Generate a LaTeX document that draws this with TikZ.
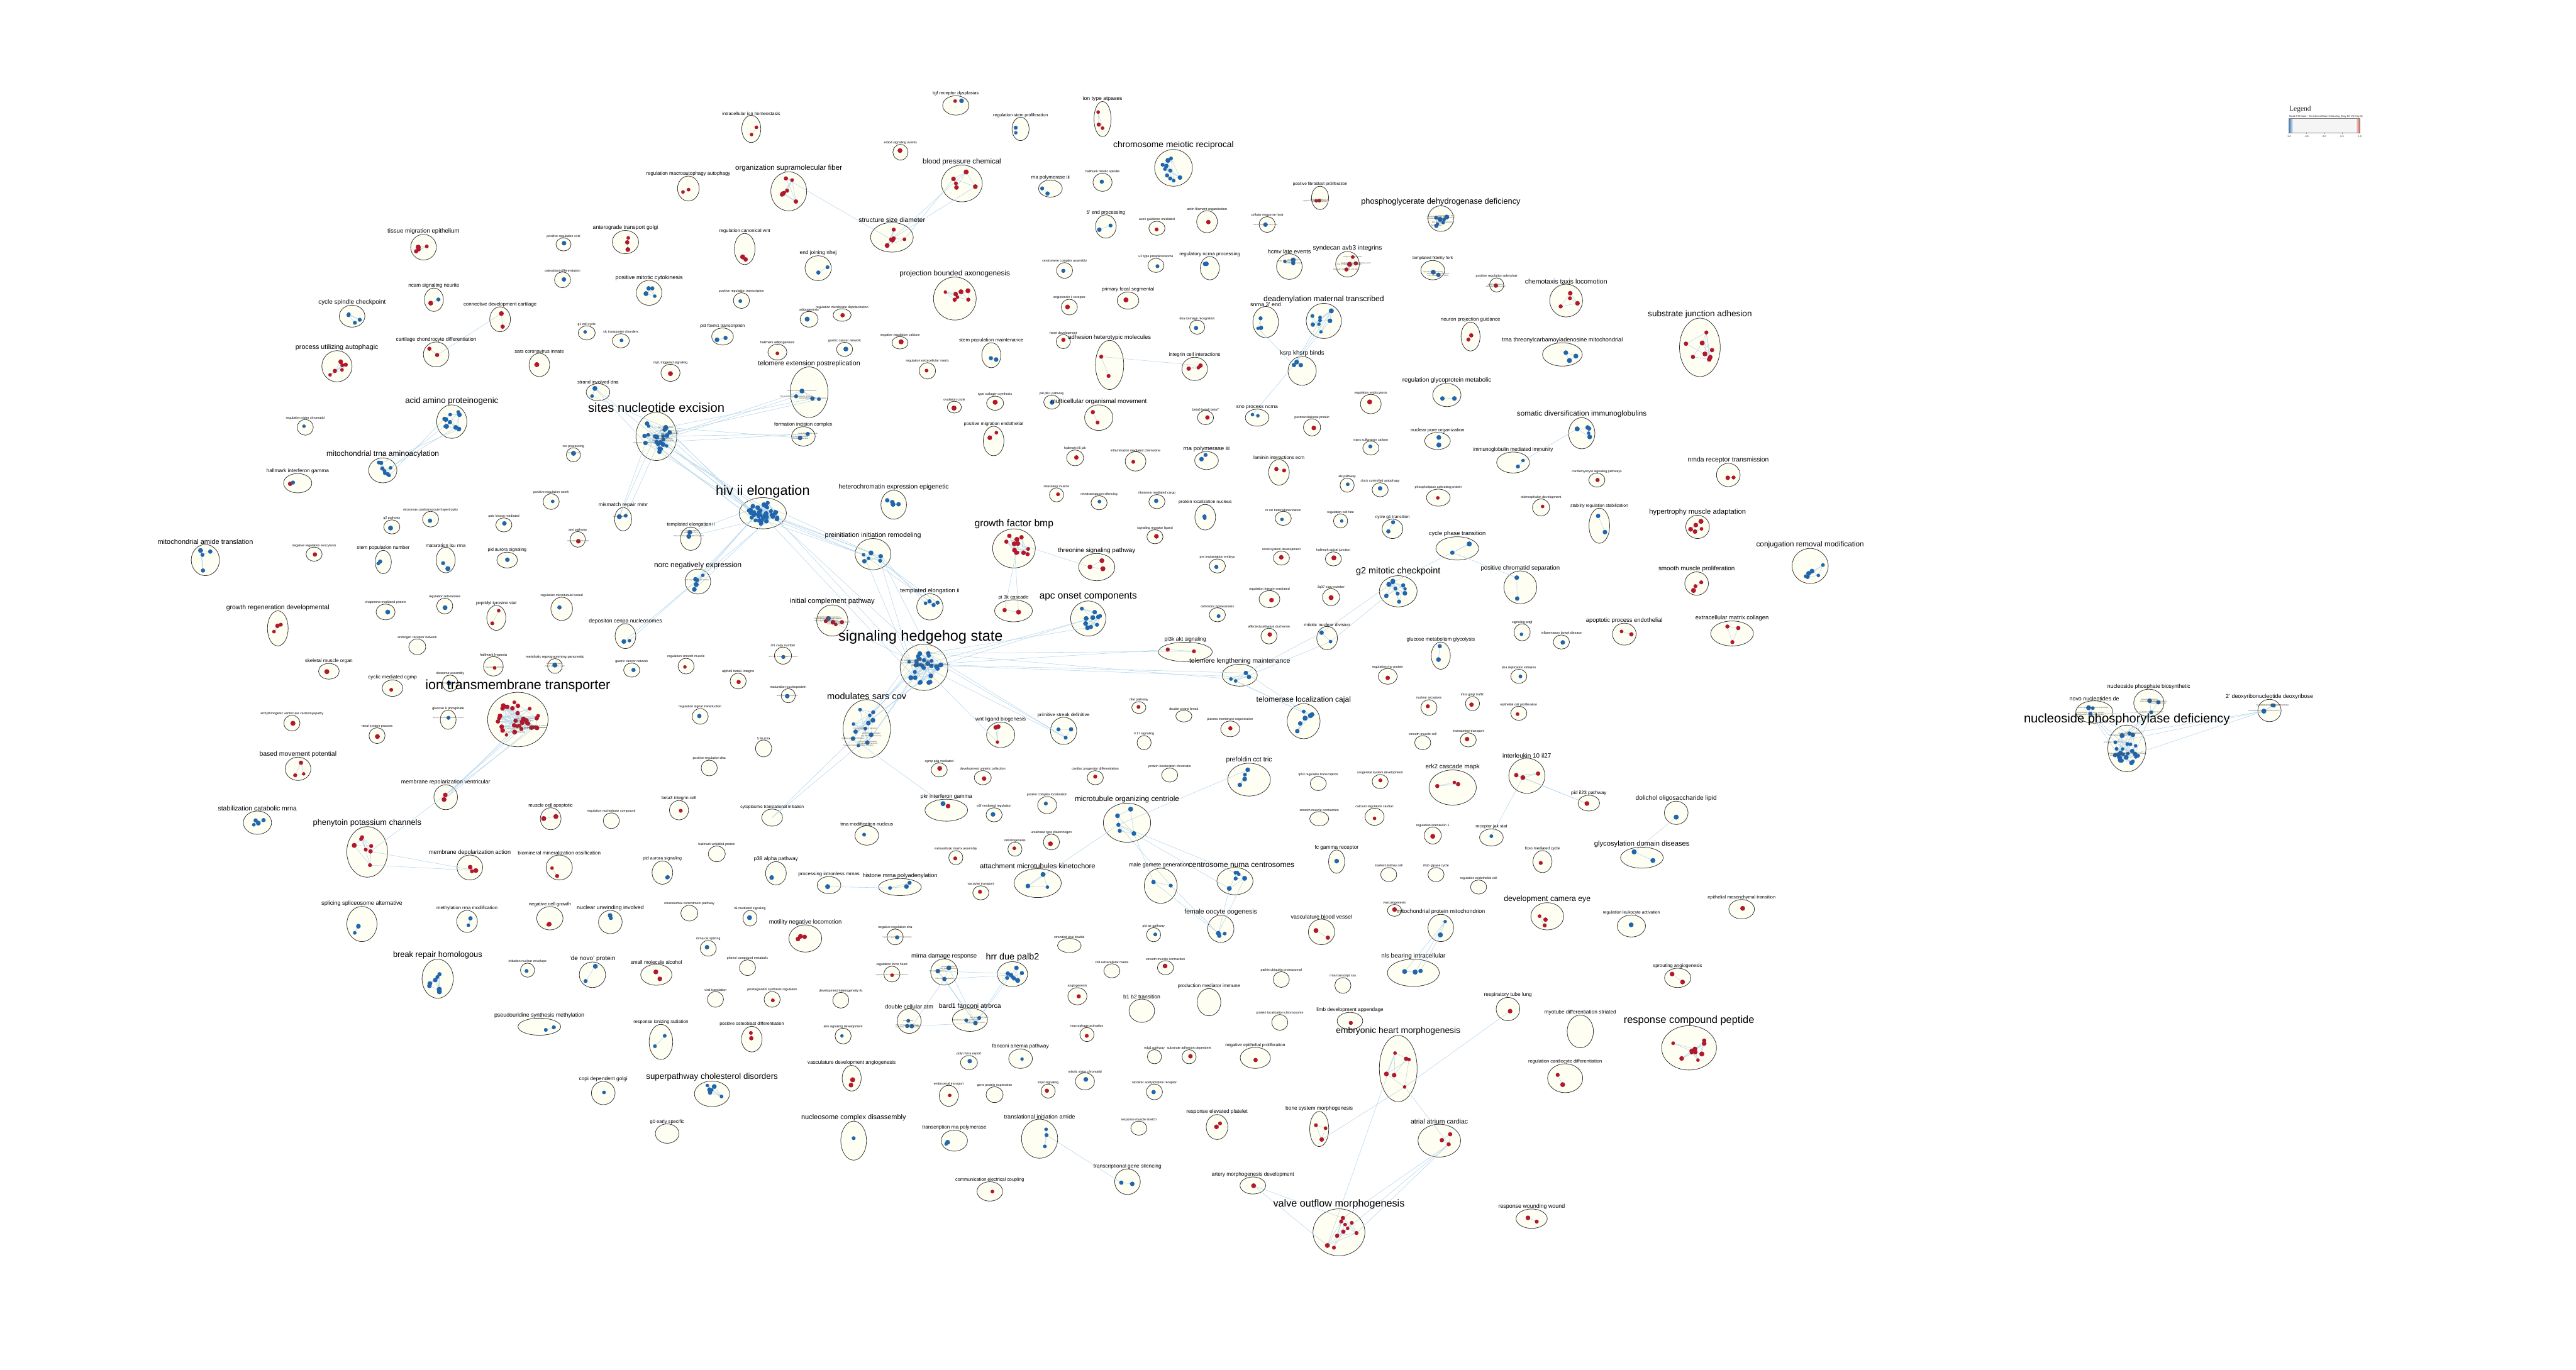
\documentclass[tikz,border=0pt]{standalone}
\usepackage{fontspec}
\setmainfont{Liberation Sans}
\newfontfamily\legfont{Liberation Serif}
\usetikzlibrary{shapes.geometric,positioning}
\definecolor{setfill}{HTML}{FFFEF2}
\definecolor{edgeblue}{HTML}{B5D5EA}
\definecolor{upred}{HTML}{B2182B}
\definecolor{downblue}{HTML}{2166AC}
\definecolor{barblue}{HTML}{3B7DB9}
\definecolor{barred}{HTML}{D0604D}
\definecolor{barmid}{HTML}{F5F5F5}
\tikzset{
  cluster/.style={ellipse, draw=black!80, fill=setfill, line width=0.3pt, inner sep=0pt, outer sep=0pt},
  clabel/.style={inner sep=0pt, outer sep=0pt, text=black},
  gstext/.style={inner sep=0pt, text=black!70, align=center, text width=20pt,
    font=\fontsize{1.05}{1.2}\selectfont},
  link/.style={draw=edgeblue, line width=0.22pt},
  legtext/.style={inner sep=0pt, text=black!85}
}
% label nudges
\expandafter\def\csname lx@cnc\endcsname{4}
\expandafter\def\csname lx@mgg\endcsname{-1}
\expandafter\def\csname lx@shs\endcsname{-2}

% name/x/y/rx/ry/font/red/blue/label
\def\clusterlist{
    iih/457.3/78.5/5.8/8.3/2.8/2/0/intracellular ion homeostasis,
    erbb/548.1/92.7/4.6/4.8/2.0/1/0/erbb4 signaling events,
    osf/480.1/116.5/10.9/11.9/4.4/7/0/organization supramolecular fiber,
    rma/419.0/114.8/6.6/7.6/3.0/2/0/regulation macroautophagy autophagy,
    ssd/542.9/144.5/13.0/9.0/4.0/6/0/structure size diameter,
    tme/257.8/150.5/7.8/7.8/3.7/4/0/tissue migration epithelium,
    atg/380.7/147.4/8.0/7.1/3.3/3/0/anterograde transport golgi,
    prv/343.0/148.8/4.6/4.0/2.0/0/1/positive regulation viral,
    rcw/453.3/151.6/6.3/9.5/2.9/2/0/regulation canonical wnt,
    ejn/498.0/163.3/8.0/7.6/3.2/0/2/end joining nhej,
    odf/342.4/170.4/4.9/4.8/2.0/0/1/osteoblast differentiation,
    pmc/395.1/178.3/7.8/7.6/3.5/0/4/positive mitotic cytokinesis,
    nsn/264.1/182.5/5.8/7.1/3.1/1/1/ncam signaling neurite,
    csc/214.3/192.5/7.8/6.7/3.8/0/4/cycle spindle checkpoint,
    cdc/304.4/194.4/6.3/7.6/3.0/2/0/connective development cartilage,
    prt/451.3/183.0/4.9/4.8/2.0/0/1/positive regulation transcription,
    adg/492.5/194.4/5.5/4.8/2.0/0/1/adipogenesis,
    rmd/512.6/191.8/5.5/3.8/2.0/1/0/regulation membrane depolarization,
    gcc/357.1/202.7/5.2/4.3/2.0/0/1/g1 cell cycle,
    std/377.9/207.5/5.2/4.3/2.0/0/1/slc transporter disorders,
    pft/439.8/204.9/6.6/5.2/2.7/0/2/pid foxm1 transcription,
    ccd/265.5/215.8/7.8/7.6/3.1/2/0/cartilage chondrocyte differentiation,
    had/473.2/214.4/5.8/4.8/2.1/1/0/hallmark adipogenesis,
    gcn/514.1/212.7/4.9/4.3/2.0/0/1/gastric cancer network,
    nrc/547.8/208.7/4.9/3.8/2.0/1/0/negative regulation calcium,
    pua/205.1/223.0/9.2/9.5/4.1/6/0/process utilizing autophagic,
    sci/328.3/222.2/6.3/7.1/2.9/1/0/sars coronavirus innate,
    nts/408.1/227.0/5.8/5.2/2.0/1/0/nrp1 triggered signaling,
    tep/492.5/238.8/11.5/15.4/4.1/0/4/telomere extension postreplication,
    sid/364.0/238.8/7.2/5.2/2.9/0/2/strand involved dna,
    sne/399.5/265.7/12.4/14.7/7.7/0/22/sites nucleotide excision,
    fic/489.0/265.7/7.2/5.9/3.0/0/2/formation incision complex,
    aap/275.0/256.7/9.2/10.2/5.1/0/10/acid amino proteinogenic,
    rsc/185.8/260.2/4.9/4.8/2.0/0/1/regulation sister chromatid,
    rpr/349.0/276.9/4.3/4.3/2.0/0/1/ras processing,
    mta/233.0/286.4/8.6/7.6/4.6/0/8/mitochondrial trna aminoacylation,
    hig/181.2/294.2/8.6/5.9/3.2/1/1/hallmark interferon gamma,
    hiv/464.3/312.5/14.4/9.5/8.3/0/40/hiv ii elongation,
    hee/544.0/307.3/7.8/8.8/3.9/0/4/heterochromatin expression epigenetic,
    prn/335.5/305.4/4.9/4.8/2.0/0/1/positive regulation notch,
    mrm/379.3/316.1/5.2/7.1/3.2/0/2/mismatch repair mmr,
    mch/262.1/316.1/4.9/4.8/2.0/0/1/micrornas cardiomyocyte hypertrophy,
    gtp/238.5/320.8/4.9/4.3/2.0/0/1/g2 pathway,
    pkm/306.7/319.6/4.9/4.3/2.0/0/1/polo kinase mediated,
    ami/351.7/328.4/4.6/4.8/2.0/1/0/ami pathway,
    teo/420.5/328.0/6.3/7.1/2.9/0/2/templated elongation ii,
    pir/531.4/337.4/10.9/9.5/4.1/0/6/preinitiation initiation remodeling,
    mat/125.0/341.0/8.6/9.5/4.2/0/4/mitochondrial amide translation,
    nre/191.2/337.4/4.9/4.3/2.0/1/0/negative regulation exocytosis,
    spn/233.3/342.2/4.9/7.1/3.0/0/2/stem population number,
    mlr/271.3/341.0/5.8/7.8/2.9/0/2/maturation lsu rrna,
    pas/308.7/341.0/6.3/4.8/2.7/0/1/pid aurora signaling,
    nne/424.8/354.1/7.8/7.6/4.5/0/5/norc negatively expression,
    grd/169.1/382.6/6.3/10.7/4.0/3/0/growth regeneration developmental,
    cmp/234.7/372.6/5.8/4.8/2.0/0/1/chaperone mediated protein,
    rtl/270.7/369.0/4.9/4.8/2.0/0/1/regulation telomerase,
    pts/302.1/376.2/5.8/7.6/2.7/2/0/peptidyl tyrosine stat,
    rmb/341.9/370.7/6.6/7.1/2.0/0/1/regulation microtubule based,
    dcn/380.7/387.3/6.3/7.6/3.3/0/2/depositon cenpa nucleosomes,
    icp/506.6/377.8/9.5/9.5/4.3/5/1/initial complement pathway,
    arn/254.0/393.8/5.2/4.8/2.0/0/0/androgen receptor network,
    smo/200.2/408.7/6.3/4.8/3.0/1/0/skeletal muscle organ,
    hhy/300.3/405.7/6.0/5.9/2.2/1/0/hallmark hypoxia,
    mrp/337.8/405.5/4.5/4.5/2.2/0/1/metabolic reprogramming pancreatic,
    gcn2/384.5/408.0/4.9/4.3/2.0/0/1/gastric cancer network,
    rsm/417.6/405.6/4.9/4.8/2.0/1/0/regulation smooth muscle,
    ncn/476.6/399.2/5.2/5.2/2.0/0/1/nf1 copy number,
    cmc/238.9/419.0/6.3/5.0/3.1/1/0/cyclic mediated cgmp,
    rba/274.0/416.0/4.8/5.0/2.0/0/1/ribosome assembly,
    abi/449.3/414.7/4.9/4.8/2.1/1/0/alpha9 beta1 integrin,
    mnp/479.8/423.6/4.3/4.3/2.0/0/1/maturation nucleoprotein,
    itt/315.2/438.1/18.4/16.6/8.2/35/0/ion transmembrane transporter,
    trd/581.8/64.2/8.0/5.9/2.8/1/1/tgf receptor dysplasias,
    ita/671.1/72.5/5.2/10.7/3.3/3/0/ion type atpases,
    rsp/621.2/78.5/5.2/7.1/2.7/0/2/regulation stem proliferation,
    cmr/714.3/102.2/11.5/11.2/5.3/0/10/chromosome meiotic reciprocal,
    bpc/585.5/111.7/12.4/11.2/4.4/5/0/blood pressure chemical,
    hms/671.1/111.0/5.8/5.5/2.0/0/1/hallmark mitotic spindle,
    rp3/639.4/114.8/7.2/5.2/3.0/0/2/rna polymerase iii,
    pfp/803.5/120.5/5.2/7.1/2.5/2/0/positive fibroblast proliferation,
    pdd/877.0/133.1/7.8/7.8/4.9/0/8/phosphoglycerate dehydrogenase deficiency,
    epr/673.1/137.9/6.3/7.1/3.0/0/2/5' end processing,
    agm/704.2/139.0/4.9/4.3/2.0/1/0/axon guidance mediated,
    afo/734.7/135.0/6.3/6.7/2.1/1/0/actin filament organization,
    crh/771.3/136.7/4.9/4.8/2.0/0/1/cellular response heat,
    cca/648.0/164.7/4.9/4.8/2.0/0/1/centromere complex assembly,
    u2p/703.6/161.6/4.9/4.3/2.0/0/1/u2 type prespliceosome,
    rnp/736.4/163.3/5.8/7.1/3.0/0/2/regulatory ncrna processing,
    hle/784.8/162.3/7.8/7.8/3.5/0/3/hcmv late events,
    sai/820.2/160.9/7.2/7.8/3.9/4/0/syndecan avb3 integrins,
    tff/872.1/164.5/7.2/5.9/2.6/0/2/templated fidelity fork,
    pra/911.0/173.5/4.3/4.3/2.0/1/0/positive regulation adenylate,
    ctl/953.3/183.0/10.0/10.0/4.0/4/0/chemotaxis taxis locomotion,
    sja/1034.7/211.5/12.4/17.8/5.2/8/0/substrate junction adhesion,
    pba/581.2/181.8/13.0/13.1/4.5/7/0/projection bounded axonogenesis,
    air/650.9/187.0/4.9/4.8/2.0/1/0/angiotensin ii receptor,
    pfs/686.6/183.0/6.6/5.2/3.0/1/0/primary focal segmental,
    ddr/728.7/199.2/4.6/4.3/2.0/0/1/dna damage recognition,
    dmt/805.8/195.4/10.7/10.7/4.7/0/8/deadenylation maternal transcribed,
    s3e/770.4/196.1/7.8/9.5/3.4/0/3/snrna 3' end,
    npg/895.1/204.9/5.8/8.8/3.0/2/0/neuron projection guidance,
    ttm/951.0/215.8/12.1/7.1/3.5/0/3/trna threonylcarbamoyladenosine mitochondrial,
    hdv/647.2/208.0/4.3/4.3/2.0/1/0/heart development,
    spm/603.4/216.3/5.8/7.6/3.0/0/2/stem population maintenance,
    ahm/675.4/222.2/8.6/15.0/3.6/2/0/adhesion heterotypic molecules,
    ici/727.2/224.6/7.8/7.1/3.0/3/0/integrin cell interactions,
    kkb/792.6/225.8/8.6/8.8/3.7/0/3/ksrp khsrp binds,
    rgm/880.7/240.5/8.6/7.1/3.7/0/2/regulation glycoprotein metabolic,
    ren/834.4/246.0/6.3/5.9/2.0/1/0/regulation endocytosis,
    rem/564.5/225.8/5.0/5.0/2.0/1/0/regulation extracellular matrix,
    tcs/605.7/245.5/5.2/4.3/2.0/1/0/type collagen synthesis,
    ovc/580.9/247.9/4.3/3.6/2.0/1/0/ovulation cycle,
    ppk/640.2/244.8/4.9/4.3/2.0/0/1/pid plk1 pathway,
    mom/668.8/254.3/8.6/7.8/3.8/2/0/multicellular organismal movement,
    bbb/733.8/254.3/4.9/4.3/2.0/1/0/beta5 beta6 beta7,
    snp/765.2/254.3/7.2/5.2/3.1/0/2/sno process ncrna,
    ptp/798.6/260.2/5.2/5.2/2.0/1/0/posttranslational protein,
    sdi/962.8/263.8/8.0/9.5/4.5/0/5/somatic diversification immunoglobulins,
    npo/875.0/268.5/7.8/5.2/2.9/0/2/nuclear pore organization,
    tsc/834.4/272.8/4.9/4.3/2.0/0/1/trans sulfuration carbon,
    pme/604.8/268.5/6.3/9.0/2.8/2/0/positive migration endothelial,
    hij/654.4/278.8/5.2/4.8/2.0/1/0/hallmark il6 jak,
    imc/691.2/280.9/6.3/5.9/2.0/1/0/inflammation mediated chemokine,
    rp3b/734.4/280.4/7.2/5.5/3.6/0/2/rna polymerase iii,
    lie/778.5/287.6/6.3/7.8/2.9/2/0/laminin interactions ecm,
    imi/921.0/281.6/10.0/6.4/3.1/0/2/immunoglobulin mediated immunity,
    csp/972.0/292.3/4.9/4.3/2.0/1/0/cardiomyocyte signaling pathways,
    alk/820.0/295.4/4.3/4.3/2.0/0/1/alk pathway,
    cla/840.1/298.2/4.9/4.3/2.0/0/1/clock controlled autophagy,
    pap/875.5/303.0/7.2/5.2/2.0/1/0/phospholipase activating protein,
    rxm/643.1/301.3/4.3/4.3/2.0/1/0/relaxation muscle,
    rts/669.0/306.1/4.9/4.3/2.0/0/1/retrotransposon silencing,
    rmc/704.2/305.4/4.9/4.3/2.0/0/1/ribosome mediated cargo,
    pln/733.6/314.9/6.3/7.8/2.7/0/2/protein localization nucleus,
    tdv/938.0/309.0/5.2/5.2/2.0/1/0/telencephalon development,
    srs/973.5/320.1/6.3/10.7/2.6/0/2/stability regulation stabilization,
    hma/1033.3/320.8/7.2/7.1/4.3/5/0/hypertrophy muscle adaptation,
    nrh/781.1/315.6/4.9/4.3/2.0/0/1/nr rar heterodimerization,
    rcf/816.0/317.2/4.3/4.3/2.0/0/1/regulation cell fate,
    cgt/847.6/322.0/6.3/5.9/2.6/0/2/cycle g1 transition,
    srl/703.0/326.8/4.9/4.3/2.0/1/0/signaling receptor ligand,
    cpt/887.0/333.9/13.0/7.1/3.6/0/2/cycle phase transition,
    gfb/617.2/333.9/13.0/11.9/6.0/12/0/growth factor bmp,
    tsp/667.6/345.3/11.0/8.3/3.8/3/0/threonine signaling pathway,
    rsd/780.0/339.8/4.9/4.3/2.0/1/0/renal system development,
    haj/811.6/340.3/4.9/4.3/2.0/1/0/hallmark apical junction,
    pie/741.0/344.6/4.9/4.3/2.0/0/1/pre implantation embryo,
    pcs/925.4/357.6/10.0/10.0/3.7/0/2/positive chromatid separation,
    gmc/851.1/360.0/11.5/9.5/5.5/0/10/g2 mitotic checkpoint,
    te2/566.0/369.5/8.0/8.0/3.6/0/4/templated elongation ii,
    p3c/616.9/371.9/11.5/6.7/3.0/2/0/pi 3k cascade,
    aoc/662.4/376.6/10.7/10.7/5.9/0/10/apc onset components,
    rim/772.7/364.8/6.3/5.2/2.0/1/0/regulation integrin mediated,
    cn2/810.2/363.6/5.2/5.2/2.0/1/0/2q37 copy number,
    crd/741.0/374.3/4.9/4.3/2.0/0/1/cell redox homeostasis,
    ape/988.7/386.1/7.2/6.7/3.6/2/0/apoptotic process endothelial,
    smp/1032.7/355.3/7.2/7.1/3.8/3/0/smooth muscle proliferation,
    spd/926.5/385.0/4.9/5.2/2.0/0/1/signaling pdgf,
    ibd/950.4/390.9/4.9/4.3/2.0/0/1/inflammatory bowel disease,
    apd/772.4/387.3/4.9/4.8/2.0/1/0/affected pathways duchenne,
    mnd/807.8/388.5/6.3/7.1/2.8/0/2/mitotic nuclear division,
    pak/721.5/396.9/16.4/5.9/3.3/2/0/pi3k akt signaling,
    tlm/754.6/411.1/10.7/6.7/4.0/0/4/telomere lengthening maintenance,
    gmg/877.0/399.2/5.8/8.3/3.1/0/2/glucose metabolism glycolysis,
    rrp/844.7/411.8/5.8/4.8/2.0/1/0/regulation rho protein,
    dri/924.5/411.8/4.9/4.3/2.0/0/1/dna replication initiation,
    shs/562.4/406.3/14.5/14.1/9.0/0/30/signaling hedgehog state,
    msc/527.6/443.8/14.4/17.8/5.6/0/12/modulates sars cov,
    wlb/609.1/447.4/8.6/7.8/3.2/3/0/wnt ligand biogenesis,
    psd/647.4/445.0/8.0/8.3/2.9/0/3/primitive streak definitive,
    nfp/693.2/430.8/4.3/3.6/2.0/1/0/nfat pathway,
    dsb/720.6/436.0/4.9/3.6/2.0/0/0/double strand break,
    tlc/793.5/439.1/10.0/10.7/4.6/0/6/telomerase localization cajal,
    pmo/748.8/443.8/5.8/4.8/2.0/1/0/plasma membrane organization,
    i17/696.4/452.2/4.3/4.3/2.0/0/0/il 17 signaling,
    nur/869.8/430.8/4.9/4.8/2.0/1/0/nuclear receptors,
    igt/896.3/428.4/4.3/4.3/2.0/1/0/intra golgi traffic,
    ecp/924.5/434.3/4.9/4.3/2.0/1/0/epithelial cell proliferation,
    smc/866.0/452.2/4.9/4.3/2.0/0/0/smooth muscle cell,
    mtr/893.7/450.5/4.9/4.3/2.0/1/0/monoamine transport,
    cpm/571.7/468.8/4.9/4.3/2.0/1/0/cgmp pkg mediated,
    duc/598.2/473.5/5.2/4.3/2.0/1/0/development ureteric collection,
    pct/760.3/474.7/13.0/10.0/4.0/0/4/prefoldin cct tric,
    cpd/666.7/473.5/4.9/4.3/2.0/1/0/cardiac progenitor differentiation,
    plc/712.0/471.9/4.9/4.3/2.0/0/0/protein localization chromatin,
    trt/802.4/477.1/4.9/4.3/2.0/0/0/tp53 regulates transcription,
    usd/840.1/475.9/4.9/4.3/2.0/1/0/urogenital system development,
    ecm/884.2/479.5/14.4/10.7/3.8/3/0/erk2 cascade mapk,
    i10/929.4/472.3/11.0/10.7/3.8/3/0/interleukin 10 il27,
    pig/576.0/493.3/13.0/6.7/3.3/1/1/pkr interferon gamma,
    emr/605.1/496.1/4.9/4.3/2.0/0/1/e2f mediated regulation,
    pcl/637.4/490.2/5.8/5.2/2.0/0/1/protein complex localization,
    moc/686.0/500.9/14.4/11.9/4.5/0/5/microtubule organizing centriole,
    smt/803.0/498.5/5.8/4.3/2.0/0/0/smooth muscle contraction,
    crc/836.7/497.3/5.8/5.2/2.0/1/0/calcium regulation cardiac,
    rjs/907.8/509.9/7.2/5.2/2.7/0/1/receptor jak stat,
    ri1/872.1/508.7/5.2/5.2/2.0/1/0/regulation interleukin 1,
    p23/967.1/489.0/6.6/4.8/3.0/1/0/pid il23 pathway,
    dol/1020.3/494.9/7.2/7.1/3.9/0/2/dolichol oligosaccharide lipid,
    gdd/999.4/522.2/13.0/6.4/4.3/0/2/glycosylation domain diseases,
    odo/617.8/517.0/4.3/4.3/2.0/1/0/odontogenesis,
    utp/640.0/512.7/4.9/4.8/2.0/1/0/urokinase type plasminogen,
    ema/581.8/522.2/4.3/4.3/2.0/1/0/extracellular matrix assembly,
    fgr/813.6/524.6/4.9/7.1/3.2/0/1/fc gamma receptor,
    fmc/938.9/524.6/5.8/6.7/2.4/1/0/foxo mediated cycle,
    mkc/845.3/532.5/4.9/4.3/2.0/0/0/markers kidney cell,
    rgc/874.1/532.5/4.9/4.3/2.0/0/0/rhob gtpase cycle,
    rec/900.0/540.1/4.9/4.3/2.0/0/0/regulation endothelial cell,
    amk/631.6/537.7/14.4/8.8/4.3/0/3/attachment microtubules kinetochore,
    vtr/597.0/543.6/4.9/4.3/2.0/1/0/vacuolar transport,
    hmp/547.8/540.1/13.0/5.2/3.5/0/3/histone mrna polyadenylation,
    mgg/706.5/539.3/10.0/10.7/3.4/0/2/male gamete generation,
    cnc/751.7/536.5/11.0/8.3/4.6/0/6/centrosome numa centrosomes,
    vsg/848.8/554.3/4.3/3.6/2.0/1/0/vasculogenesis,
    mpm/877.0/565.0/7.8/8.3/3.4/0/2/mitochondrial protein mitochondrion,
    dce/941.8/557.9/10.0/8.3/4.7/3/0/development camera eye,
    rla/993.0/563.8/8.6/6.7/2.6/0/1/regulation leukocyte activation,
    foo/743.1/565.5/8.0/8.3/4.0/0/3/female oocyte oogenesis,
    vbv/804.4/567.4/8.0/7.8/3.4/2/0/vasculature blood vessel,
    pat/702.2/569.1/4.3/4.3/2.0/0/1/pid atr pathway,
    svd/650.9/575.7/7.2/4.3/2.0/0/0/stranded viral double,
    nbi/860.3/592.3/15.8/8.3/3.8/0/3/nls bearing intracellular,
    dnr/574.7/591.8/8.2/8.0/3.7/0/3/mirna damage response,
    dca/553.4/621.7/7.3/7.5/3.5/0/3/double cellular atm,
    hdp/616.3/593.1/9.2/7.6/5.5/0/8/hrr due palb2,
    cem/676.8/591.1/4.9/4.3/2.0/0/0/cell extracellular matrix,
    smk/709.4/589.2/4.9/4.3/2.0/1/0/smooth muscle contraction,
    agn/655.8/606.6/5.8/5.2/2.0/1/0/angiogenesis,
    pmi/735.9/610.2/7.2/8.3/3.0/0/0/production mediator immune,
    pup/779.9/596.4/4.9/4.8/2.0/0/0/parkin ubiquitin proteasomal,
    rtu/817.4/600.0/4.9/4.8/2.0/0/0/rrna transcript ssu,
    bbt/695.0/615.4/7.8/7.1/3.3/0/0/b1 b2 transition,
    bfa/590.4/620.9/10.7/7.1/4.0/0/3/bard1 fanconi atrbrca,
    plm/779.0/622.5/4.9/4.8/2.0/0/0/protein localization chromosome,
    rtb/917.9/614.4/7.2/7.1/3.2/1/0/respiratory tube lung,
    mds/961.9/628.0/8.0/10.0/3.2/0/0/myotube differentiation striated,
    rcp/1028.1/638.0/16.7/13.5/6.3/10/0/response compound peptide,
    lda/821.7/621.6/7.8/5.2/3.1/1/0/limb development appendage,
    mac/661.6/629.9/4.3/4.3/2.0/1/0/macrophage activation,
    ehm/851.1/650.6/11.5/20.2/5.3/6/0/embryonic heart morphogenesis,
    fap/621.2/644.6/7.2/5.9/3.2/0/1/fanconi anemia pathway,
    pmx/589.8/647.0/5.2/4.3/2.0/0/1/poly mrna export,
    rcd/952.7/656.5/10.7/8.8/2.9/2/0/regulation cardiocyte differentiation,
    edg/702.7/643.4/4.3/4.3/2.0/0/0/edg1 pathway,
    sad/723.8/643.4/4.3/4.3/2.0/1/0/substrate adhesion dependent,
    nep/764.1/644.1/9.2/6.4/2.7/1/0/negative epithelial proliferation,
    msh/660.4/658.4/5.8/5.2/2.0/0/1/mitotic sister chromatid,
    nar/702.7/664.8/4.9/4.8/2.0/0/1/nicotinic acetylcholine receptor,
    etr/577.5/667.2/5.8/6.4/2.0/1/0/endosomal transport,
    gpe/605.4/666.5/5.2/4.8/2.0/0/0/gene protein expression,
    sp2/638.0/664.3/4.3/4.3/2.0/1/0/shp2 signaling,
    bsm/803.0/687.4/5.8/10.7/3.2/3/0/bone system morphogenesis,
    aac/876.1/694.5/13.0/10.0/4.0/3/0/atrial atrium cardiac,
    rep/740.8/686.2/6.6/7.6/3.2/2/0/response elevated platelet,
    rms/693.2/686.9/4.9/4.3/2.0/0/0/response muscle stretch,
    tia/632.8/693.3/11.0/11.9/3.5/0/3/translational initiation amide,
    trp/580.9/694.5/8.0/6.4/3.1/0/2/transcription rna polymerase,
    tgs/686.3/719.5/7.8/7.8/3.2/0/2/transcriptional gene silencing,
    amd/762.6/721.8/7.8/5.2/3.2/1/0/artery morphogenesis development,
    cec/602.5/725.4/7.8/5.9/2.8/1/0/communication electrical coupling,
    vom/815.0/750.3/15.8/14.3/6.2/10/0/valve outflow morphogenesis,
    rww/932.3/742.0/9.5/5.9/3.4/2/0/response wounding wound,
    nps/1308.0/428.0/9.2/8.4/3.3/0/3/nucleoside phosphate biosynthetic,
    npd/1294.6/455.7/11.6/14.2/7.7/0/25/nucleoside phosphorylase deficiency,
    nnd/1274.8/433.5/11.3/6.8/3.4/0/3/novo nucleotides de,
    dxr/1381.4/432.6/7.1/6.8/3.4/0/3/2' deoxyribonucleotide deoxyribose,
    emt/1060.1/553.6/7.8/5.9/2.8/1/0/epithelial mesenchymal transition,
    spa/1021.2/595.4/8.0/5.9/2.9/2/0/sprouting angiogenesis,
    nrt/1052.0/289.2/7.2/7.1/4.0/2/0/nmda receptor transmission,
    crm/1101.8/344.6/11.0/10.7/4.5/0/6/conjugation removal modification,
    emc/1054.3/385.7/13.0/7.6/3.6/3/0/extracellular matrix collagen,
    avc/177.7/440.3/4.9/4.8/2.0/1/0/arrhythmogenic ventricular cardiomyopathy,
    g6p/272.8/438.2/4.8/5.9/2.1/0/1/glucose 6 phosphate,
    rsy/229.5/447.9/4.9/4.8/2.0/1/0/renal system process,
    bmv/181.4/468.1/7.8/7.1/4.0/3/0/based movement potential,
    mrv/271.3/485.4/7.2/7.6/3.4/2/0/membrane repolarization ventricular,
    scm/156.7/500.9/8.6/7.1/4.0/0/4/stabilization catabolic mrna,
    ppc/223.5/518.7/12.4/15.4/4.9/7/0/phenytoin potassium channels,
    mda/286.0/528.2/7.8/7.6/3.5/3/0/membrane depolarization action,
    mca/335.2/498.5/6.3/6.7/2.9/2/0/muscle cell apoptotic,
    rnc/372.1/499.7/4.9/4.8/2.0/0/0/regulation nucleobase compound,
    bmo/340.4/528.2/8.0/7.6/3.1/2/0/biomineral mineralization ossification,
    rst/426.2/436.2/4.9/4.8/2.0/0/1/regulation signal transduction,
    r58/464.8/455.7/4.9/5.2/2.0/0/0/5 8s rrna,
    prd/431.7/467.6/4.9/4.8/2.0/0/0/positive regulation dna,
    bic/413.3/493.3/5.8/5.9/2.7/1/0/beta3 integrin cell,
    cti/470.0/497.8/6.3/5.2/2.6/0/0/cytoplasmic translational initiation,
    tmn/527.6/508.7/7.2/5.9/2.9/0/1/trna modification nucleus,
    hup/436.3/519.9/5.2/4.8/2.0/0/0/hallmark unfolded protein,
    pau/403.2/531.3/6.3/7.1/2.7/0/2/pid aurora signaling,
    p38/472.3/531.7/6.3/7.1/3.2/0/2/p38 alpha pathway,
    pim/504.6/538.9/7.2/5.2/3.0/0/1/processing intronless mrnas,
    ssa/220.3/562.6/9.2/10.7/3.5/0/3/splicing spliceosome alternative,
    mrr/284.3/561.0/6.3/6.7/2.9/0/2/methylation rrna modification,
    ncg/334.7/559.1/8.0/7.1/2.9/2/0/negative cell growth,
    nui/371.5/561.4/7.2/7.1/3.4/0/2/nuclear unwinding involved,
    mcp/419.6/556.0/5.2/4.8/2.0/0/0/mesodermal commitment pathway,
    ims/456.5/559.1/4.3/4.8/2.0/0/1/il6 mediated signaling,
    mnl/490.2/571.4/10.0/8.3/3.6/3/0/motility negative locomotion,
    nrd/544.9/570.5/4.9/4.8/2.0/0/1/negative regulation dna,
    brh/266.4/595.9/9.5/11.9/4.9/0/8/break repair homologous,
    ine/321.1/590.7/4.3/4.3/2.0/0/1/initiation nuclear envelope,
    dnp/360.6/593.5/8.0/7.8/3.8/0/2/'de novo' protein,
    sma/399.5/593.5/9.5/6.4/3.1/2/0/small molecule alcohol,
    mcs/431.1/577.4/4.9/4.8/2.0/0/1/mrna cis splicing,
    pcm/455.0/589.2/4.9/4.8/2.0/0/0/phenol compound metabolic,
    rfh/542.9/593.1/4.9/4.8/2.0/1/0/regulation force heart,
    vtl/435.5/608.5/4.9/4.8/2.0/0/0/viral translation,
    psr/470.0/608.5/4.9/4.8/2.0/1/0/prostaglandin synthesis regulation,
    dhi/511.8/609.0/4.9/4.8/2.0/0/0/development heterogeneity ilc,
    psm/328.3/625.1/13.0/5.2/3.4/0/2/pseudouridine synthesis methylation,
    rir/402.3/634.4/7.2/10.7/2.8/0/2/response ionizing radiation,
    pod/457.6/632.7/6.3/7.8/2.7/2/0/positive osteoblast differentiation,
    asd/513.2/630.8/4.9/4.8/2.0/0/1/atm signaling development,
    vda/518.4/656.5/5.8/7.8/3.1/2/0/vasculature development angiogenesis,
    cdg/367.2/665.5/7.2/7.1/3.2/0/1/copi dependent golgi,
    scd/433.4/666.0/10.7/7.8/5.1/0/6/superpathway cholesterol disorders,
    ges/406.1/690.2/7.2/5.9/2.9/0/0/g0 early specific,
    ncd/519.6/694.5/7.8/11.9/4.2/0/1/nucleosome complex disassembly%
}

% gene-set names written beside their nodes: cluster/node/text
\def\genesetlist{
    icp/1/complement activation,
    icp/2/Regulation of Complement cascade,
    icp/3/Complement Pathway,
    icp/4/Complement cascade,
    icp/5/Initial triggering of complement,
    icp/6/Regulation of actin dynamics for phagocytic cup formation,
    ncn/1/NF1 copy number variation syndrome,
    mnp/1/Maturation of nucleoprotein,
    msc/1/Signaling by ROBO receptors,
    msc/2/Translation initiation complex formation,
    msc/3/SARS-CoV-1 modulates host translation machinery,
    msc/4/SARS-CoV-2 modulates host translation machinery,
    msc/5/Cellular response to starvation,
    shs/1/Signaling by Hedgehog,
    shs/2/Apoptosis,
    shs/3/Programmed Cell Death,
    shs/4/TCF dependent signaling in response to WNT,
    shs/5/Cellular responses to stress,
    shs/6/B Cell Activation,
    sne/1/base-excision repair,
    sne/2/base excision repair,
    sne/3/Translesion Synthesis by POLH,
    sne/4/Polymerase switching on the C-strand of the telomere,
    sne/5/Telomere C-strand (Lagging Strand) Synthesis,
    fic/1/Formation of Incision Complex in GG-NER,
    fic/2/nucleotide-excision repair,
    mrm/1/MMR,
    mrm/2/mismatch repair,
    rpr/1/RAS processing,
    ami/1/BIOCARTA\_AMI\_PATHWAY,
    teo/1/DNA-templated transcription elongation,
    teo/2/transcription elongation by RNA polymerase II,
    tep/1/RNA-templated DNA biosynthetic process,
    tep/2/telomere maintenance via telomerase,
    tep/3/Telomere Extension By Telomerase,
    nne/1/RNA Polymerase I Transcription,
    nps/1/nucleotide biosynthetic process,
    nps/2/nucleoside phosphate biosynthetic process,
    nps/3/nucleoside monophosphate metabolic process,
    nnd/1/superpathway of pyrimidine deoxyribonucleotides de novo biosynthesis,
    nnd/2/purine nucleotides de novo biosynthesis,
    dxr/1/2'-deoxyribonucleotide metabolic process,
    dxr/2/deoxyribose phosphate metabolic process,
    dxr/3/deoxyribonucleotide metabolic process,
    npd/1/Thioguanine Action Pathway,
    npd/2/Azathioprine Action Pathway,
    npd/3/nucleobase metabolic process,
    npd/4/Purine Nucleoside Phosphorylase Deficiency,
    npd/5/Mercaptopurine Action Pathway,
    itt/1/calcium-mediated signaling,
    itt/2/regulation of calcium ion transmembrane transport,
    itt/3/positive regulation of calcium ion transmembrane transport,
    itt/4/regulation of cardiac muscle contraction,
    itt/5/calcium ion transmembrane transport,
    hhy/1/HALLMARK\_HYPOXIA,
    mrp/1/Metabolic reprogramming in pancreatic cancer,
    g6p/1/glucose 6-phosphate metabolic process,
    rba/1/ribosome assembly,
    pfp/1/positive regulation of fibroblast proliferation,
    pfp/2/regulation of fibroblast proliferation,
    crh/1/Cellular response to heat stress,
    pdd/1/Dimethylglycine Dehydrogenase Deficiency,
    pdd/2/Non-Ketotic Hyperglycinemia,
    pdd/3/Sarcosinemia,
    pdd/4/3-Phosphoglycerate Dehydrogenase Deficiency,
    hle/1/HCMV Late Events,
    hle/2/HCMV Infection,
    hle/3/HCMV Early Events,
    sai/1/PID\_SYNDECAN\_1\_PATHWAY,
    sai/2/PID\_AVB3\_INTEGRIN\_PATHWAY,
    sai/3/Syndecan-1-mediated signaling events,
    sai/4/Integrins in angiogenesis,
    tff/1/replication fork processing,
    tff/2/DNA-templated DNA replication maintenance of fidelity,
    pra/1/positive regulation of adenylate cyclase activity,
    dnr/1/DNA damage response,
    dnr/2/ATM signaling pathway,
    dnr/3/miRNA regulation of DNA damage response,
    dca/1/PID\_ATM\_PATHWAY,
    dca/2/DNA IR-double strand breaks and cellular response via ATM,
    dca/3/ATM pathway,
    rfh/1/regulation of the force of heart contraction,
    nrd/1/negative regulation of DNA replication,
    bfa/1/BARD1 signaling events,
    bfa/2/PID\_BARD1\_PATHWAY,
    bfa/3/BIOCARTA\_ATRBRCA\_PATHWAY%
}

% pairs of clusters joined by overlap edges: from/to/count
\def\linklist{sne/hiv/10, sne/sid/3, sne/tep/4, sne/fic/3, sne/mrm/3,
    hiv/pir/6, hiv/nne/5, hiv/teo/2, hiv/shs/3, pir/te2/4, pir/shs/3,
    aap/mta/4, nne/dcn/2, shs/msc/8, shs/icp/1, shs/wlb/1, shs/psd/3,
    shs/aoc/3, shs/pak/2, shs/tlm/3, tlm/tlc/3, tlm/mnd/2, mnd/gmc/2,
    gfb/tsp/1, gfb/p3c/2, itt/mrv/5, ppc/mda/2, ppc/mrv/1, msc/cti/2,
    msc/pig/1, moc/pct/1, moc/amk/1, moc/mgg/2, moc/cnc/2, cnc/foo/2,
    mgg/foo/2, dmt/kkb/3, s3e/kkb/1, kkb/snp/1, ahm/ici/1, sdi/imi/1,
    cpt/gmc/1, pcs/cpt/1, i10/p23/2, i10/rjs/1, nbi/mpm/3, ehm/rtb/1,
    ehm/aac/1, ehm/bsm/1, vom/aac/3, vom/amd/2, vom/ehm/1, tia/tgs/1,
    bfa/hdp/2, dnr/hdp/2, dnr/bfa/3, dca/dnr/1, dca/bfa/1,
    npd/nnd/4, npd/nps/5, npd/dxr/3, nnd/nps/1,
    bpc/ssd/3, osf/ssd/1, cdc/ccd/1, hmp/pim/1, dol/gdd/1}

\begin{document}
\begin{tikzpicture}[x=1pt, y=-1pt, line cap=round, line join=round]
  \useasboundingbox (0,0) rectangle (1568,834);
  \pgfmathsetseed{42}

  % ---- pass 1: cluster ellipses ----
  \foreach \n/\x/\y/\rx/\ry/\fs/\nr/\nb/\lbl in \clusterlist {
    \node[cluster, minimum width={2*\rx*1pt}, minimum height={2*\ry*1pt}] (\n) at (\x,\y) {};
  }

  % ---- pass 2: gene-set positions and edges inside clusters ----
  \foreach \n/\x/\y/\rx/\ry/\fs/\nr/\nb/\lbl in \clusterlist {
    \pgfmathtruncatemacro{\N}{\nr+\nb}
    \pgfmathtruncatemacro{\M}{max(\N,1)}
    \expandafter\xdef\csname nd@\n\endcsname{\M}
    \ifnum\N=0
      \coordinate (\n-d1) at (\x,\y);
    \else
      \foreach \k in {1,...,\N} {
        \pgfmathsetmacro{\ang}{360*rnd}
        \pgfmathsetmacro{\rr}{ifthenelse(\N==1,0.25,0.72)*sqrt(rnd)}
        \pgfmathsetmacro{\dr}{1.05+0.5*rnd}
        \expandafter\xdef\csname dr@\n @\k\endcsname{\dr}
        \coordinate (\n-d\k) at ({\x+\rr*\rx*cos(\ang)},{\y+\rr*\ry*sin(\ang)});
        \ifnum\k>1
          \pgfmathtruncatemacro{\p}{\k-1}
          \pgfmathtruncatemacro{\q}{max(1,floor(\k/2))}
          \draw[link] (\n-d\k) -- (\n-d\p) (\n-d\k) -- (\n-d\q);
        \fi
      }
    \fi
  }

  % ---- pass 3: edges between clusters ----
  \foreach \a/\b/\m in \linklist {
    \edef\ma{\csname nd@\a\endcsname}
    \edef\mb{\csname nd@\b\endcsname}
    \foreach \k in {1,...,\m} {
      \pgfmathtruncatemacro{\i}{mod(\k-1,\ma)+1}
      \pgfmathtruncatemacro{\j}{mod(3*\k,\mb)+1}
      \draw[link] (\a-d\i) -- (\b-d\j);
    }
  }

  % ---- pass 4: gene-set nodes ----
  \foreach \n/\x/\y/\rx/\ry/\fs/\nr/\nb/\lbl in \clusterlist {
    \pgfmathtruncatemacro{\N}{\nr+\nb}
    \ifnum\N>0
      \foreach \k in {1,...,\N} {
        \ifnum\k>\nr \def\dc{downblue}\else\def\dc{upred}\fi
        \fill[\dc] (\n-d\k) circle (\csname dr@\n @\k\endcsname);
      }
    \fi
  }

  % ---- pass 5: gene-set names ----
  \foreach \n/\k/\txt in \genesetlist {
    \node[gstext] (\n-g\k) at (\n-d\k) {\txt};
  }

  % ---- pass 6: cluster labels ----
  \foreach \n/\x/\y/\rx/\ry/\fs/\nr/\nb/\lbl in \clusterlist {
    \edef\lx{\ifcsname lx@\n\endcsname\csname lx@\n\endcsname\else 0\fi}
    \node[clabel, font=\fontsize{\fs}{\fs}\selectfont, above=0pt of \n, xshift=\lx pt] (\n-t) {\lbl};
  }

  % ---- legend ----
  \node[legtext, anchor=base west, font=\legfont\fontsize{4.4}{4.4}\selectfont] (legtitle) at (1393.3,67.4) {Legend};
  \node[legtext, anchor=base west, font=\fontsize{1.6}{1.6}\selectfont] (legsub) at (1393.3,71.3)
    {Node Fill Color:\ \ EnrichmentMap::Colouring (Day 60 VS Day 0)};
  \coordinate (barA) at (1393.2,72.1);
  \coordinate (barB) at (1436.4,80.7);
  \shade[left color=barblue, right color=barmid] (1393.2,72.1) rectangle (1395.8,80.7);
  \fill[barmid] (1395.8,72.1) rectangle (1433.8,80.7);
  \shade[left color=barmid, right color=barred] (1433.8,72.1) rectangle (1436.4,80.7);
  \draw[gray, line width=0.15pt] (barA) rectangle (barB);
  \foreach \v [count=\i] in {-1.0,-0.5,0.0,0.5,1.0} {
    \coordinate (tk\i) at ({1393.2+(\i-1)*10.8},80.7);
    \draw[gray, line width=0.15pt] (tk\i) -- ++(0,0.7);
    \node[legtext, anchor=base, font=\fontsize{1.5}{1.5}\selectfont] (tl\i) at ({1393.2+(\i-1)*10.8},83.7) {\v};
  }
\end{tikzpicture}
\end{document}
